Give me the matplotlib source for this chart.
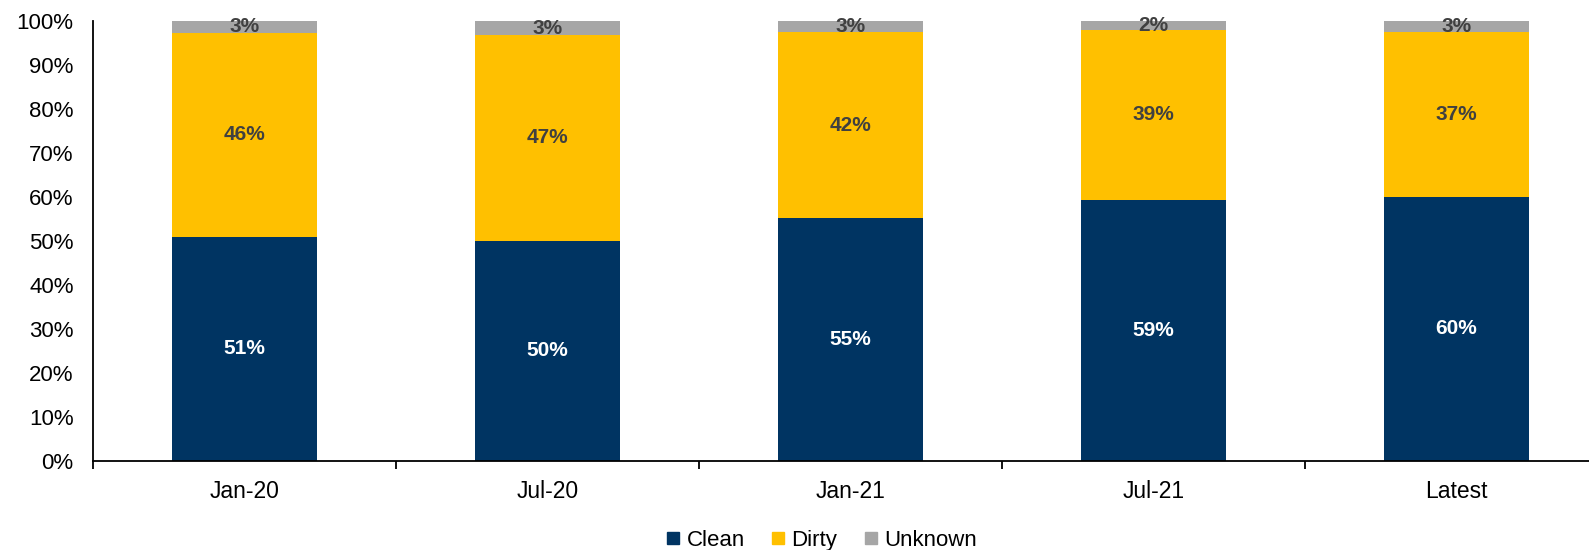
import numpy as np
import matplotlib.pyplot as plt
from matplotlib.lines import Line2D

plt.rcParams['font.family'] = ['Liberation Sans', 'DejaVu Sans']

categories = ['Jan-20', 'Jul-20', 'Jan-21', 'Jul-21', 'Latest']
clean = [51.0, 50.1, 55.3, 59.4, 60.0]
dirty = [46.3, 46.7, 42.1, 38.6, 37.4]
unknown = [2.7, 3.2, 2.6, 2.0, 2.6]

series = [('Clean', clean, '#003462', 'white'),
          ('Dirty', dirty, '#FFC000', '#404040'),
          ('Unknown', unknown, '#A6A6A6', '#404040')]

W, H = 1589, 550
fig = plt.figure(figsize=(W / 100, H / 100), dpi=100)
ax = fig.add_axes([93 / W, (H - 461) / H, 1515 / W, 440 / H])

x = np.arange(len(categories))
bottom = np.zeros(len(categories))
handles = []
for name, vals, col, tcol in series:
    vals = np.array(vals)
    ax.bar(x, vals, width=0.48, bottom=bottom, color=col, zorder=2)
    for xi, b, v in zip(x, bottom, vals):
        ax.text(xi, b + v / 2, f'{v:.0f}%', ha='center', va='center',
                color=tcol, fontsize=15, fontweight='bold', zorder=3)
    bottom = bottom + vals
    handles.append(Line2D([], [], marker='s', linestyle='none', color=col,
                          markersize=9, label=name))

ax.set_xlim(-0.5, 4.5)
ax.set_ylim(0, 100)
ax.set_yticks(np.arange(0, 101, 10))
ax.set_yticklabels([f'{v}%' for v in range(0, 101, 10)])
ax.set_xticks(x)
ax.set_xticklabels(categories)
ax.set_xticks(np.arange(-0.5, 5, 1), minor=True)
ax.tick_params(axis='y', length=0, pad=14, labelsize=16)
ax.tick_params(axis='x', which='major', length=0, pad=14, labelsize=16.5)
ax.tick_params(axis='x', which='minor', length=6, width=1.3, direction='out')

for s in ['top', 'right']:
    ax.spines[s].set_visible(False)
for s in ['left', 'bottom']:
    ax.spines[s].set_linewidth(1.3)

fig.legend(handles=handles, loc='center', bbox_to_anchor=(0.517, 0.018),
           ncol=3, frameon=False, fontsize=16, handlelength=0.6,
           handletextpad=0.3, columnspacing=1.2, borderpad=0)

fig.savefig('out.png', dpi=100)
